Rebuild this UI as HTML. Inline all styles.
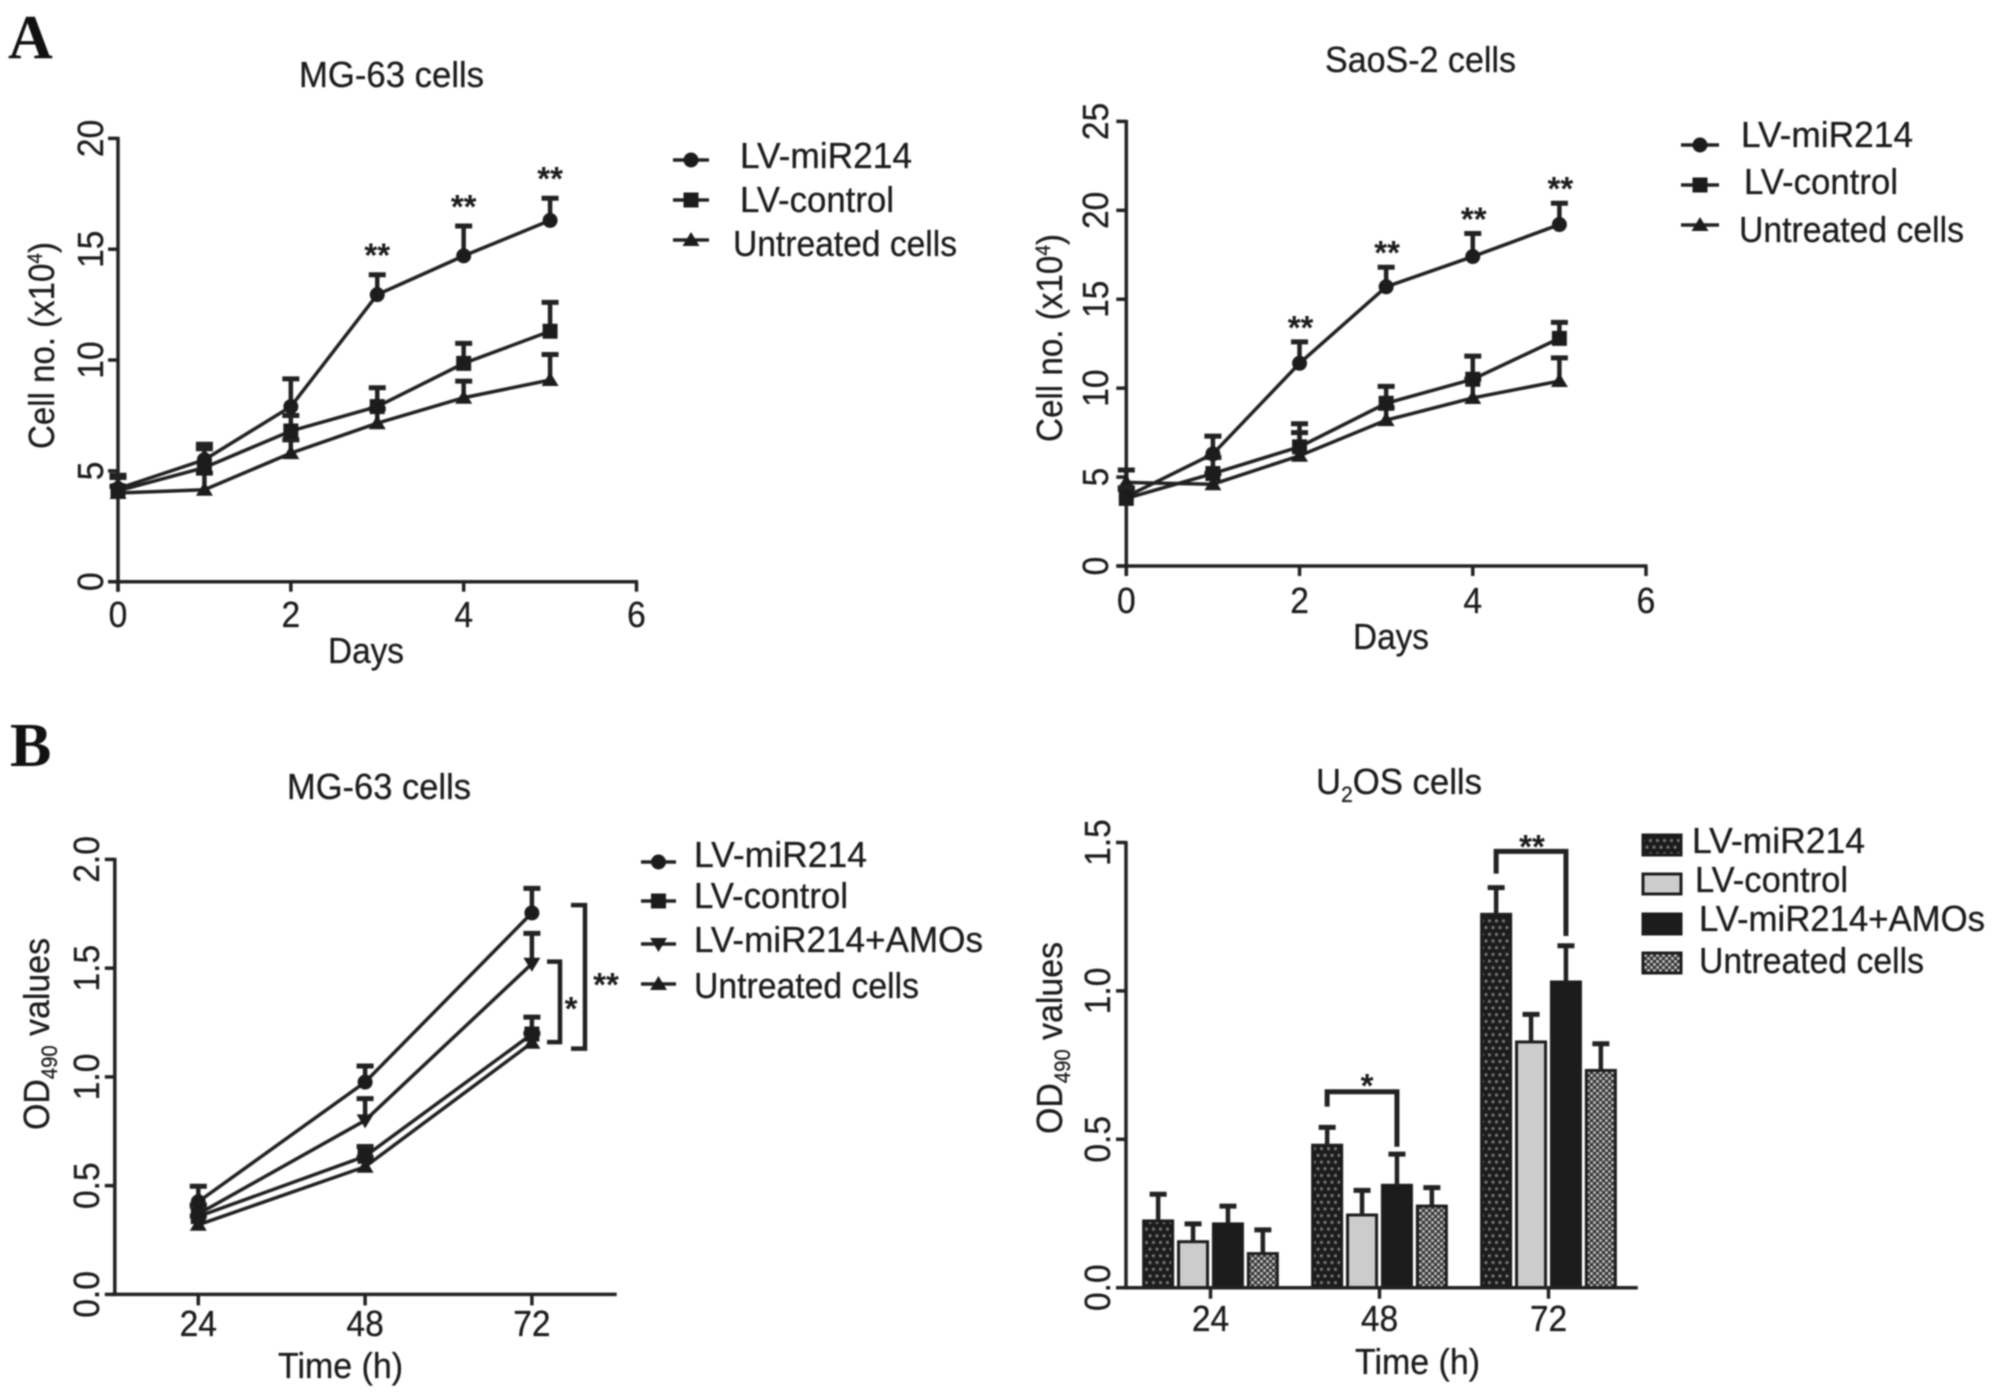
<!DOCTYPE html>
<html lang="en">
<head>
<meta charset="utf-8">
<title>Cell proliferation charts</title>
<style>
html,body{margin:0;padding:0;background:#fff;}
svg{display:block;filter:blur(0.75px);}
text{font-family:"Liberation Sans",sans-serif;fill:#1c1c1c;}
.panel{font-family:"Liberation Serif",serif;font-weight:bold;font-size:62px;fill:#111;}
.t{font-size:36.5px;stroke:#1c1c1c;stroke-width:0.3px;}
</style>
</head>
<body>
<svg id="fig" xmlns="http://www.w3.org/2000/svg" width="1998" height="1398" viewBox="0 0 1998 1398">
<defs>
<pattern id="dots" patternUnits="userSpaceOnUse" width="7" height="13.4"><rect width="7" height="13.4" fill="#1c1c1c"/><circle cx="2" cy="3" r="1.6" fill="#777"/><circle cx="5.5" cy="9.7" r="1.6" fill="#777"/></pattern>
<pattern id="check" patternUnits="userSpaceOnUse" width="6" height="6"><rect width="6" height="6" fill="#333"/><circle cx="1.5" cy="1.5" r="1.5" fill="#c4c4c4"/><circle cx="4.5" cy="4.5" r="1.5" fill="#c4c4c4"/></pattern>
</defs>
<rect x="0" y="0" width="1998" height="1398" fill="#fff"/>

<text class="panel" x="8" y="58">A</text>
<text class="panel" x="10" y="766">B</text>

<text class="t" x="299" y="87" textLength="185" lengthAdjust="spacingAndGlyphs">MG-63 cells</text>
<text class="t" x="328" y="663" textLength="76" lengthAdjust="spacingAndGlyphs">Days</text>
<text class="t" transform="translate(54,449) rotate(-90)" textLength="207" lengthAdjust="spacingAndGlyphs">Cell no.  (x10<tspan font-size="21" dy="-12">4</tspan><tspan dy="12">)</tspan></text>
<g>
<text class="t" x="740" y="168" textLength="172" lengthAdjust="spacingAndGlyphs">LV-miR214</text>
<text class="t" x="740" y="212" textLength="154" lengthAdjust="spacingAndGlyphs">LV-control</text>
<text class="t" x="733" y="256" textLength="224" lengthAdjust="spacingAndGlyphs">Untreated cells</text>
</g>

<text class="t" x="1325" y="72" textLength="191" lengthAdjust="spacingAndGlyphs">SaoS-2 cells</text>
<text class="t" x="1353" y="649" textLength="76" lengthAdjust="spacingAndGlyphs">Days</text>
<text class="t" transform="translate(1062,442) rotate(-90)" textLength="208" lengthAdjust="spacingAndGlyphs">Cell no.  (x10<tspan font-size="21" dy="-12">4</tspan><tspan dy="12">)</tspan></text>
<g>
<text class="t" x="1741" y="147" textLength="172" lengthAdjust="spacingAndGlyphs">LV-miR214</text>
<text class="t" x="1744" y="194" textLength="154" lengthAdjust="spacingAndGlyphs">LV-control</text>
<text class="t" x="1739" y="242" textLength="225" lengthAdjust="spacingAndGlyphs">Untreated cells</text>
</g>

<text class="t" x="287" y="799" textLength="184" lengthAdjust="spacingAndGlyphs">MG-63 cells</text>
<text class="t" x="278" y="1378" textLength="125" lengthAdjust="spacingAndGlyphs">Time (h)</text>
<text class="t" transform="translate(49,1130) rotate(-90)" textLength="192" lengthAdjust="spacingAndGlyphs">OD<tspan font-size="22" dy="8">490</tspan><tspan dy="-8"> values</tspan></text>
<g>
<text class="t" x="694" y="867" textLength="173" lengthAdjust="spacingAndGlyphs">LV-miR214</text>
<text class="t" x="694" y="908" textLength="154" lengthAdjust="spacingAndGlyphs">LV-control</text>
<text class="t" x="694" y="952" textLength="289" lengthAdjust="spacingAndGlyphs">LV-miR214+AMOs</text>
<text class="t" x="694" y="998" textLength="225" lengthAdjust="spacingAndGlyphs">Untreated cells</text>
</g>

<text class="t" x="1316" y="794" textLength="166" lengthAdjust="spacingAndGlyphs">U<tspan font-size="22" dy="8">2</tspan><tspan dy="-8">OS cells</tspan></text>
<text class="t" x="1355" y="1374" textLength="125" lengthAdjust="spacingAndGlyphs">Time (h)</text>
<text class="t" transform="translate(1062,1134) rotate(-90)" textLength="192" lengthAdjust="spacingAndGlyphs">OD<tspan font-size="22" dy="8">490</tspan><tspan dy="-8"> values</tspan></text>
<g>
<rect x="1643" y="835" width="38" height="20" fill="url(#dots)" stroke="#1c1c1c" stroke-width="3"/>
<rect x="1643" y="874" width="38" height="20" fill="#ccc" stroke="#1c1c1c" stroke-width="3"/>
<rect x="1643" y="914" width="38" height="20" fill="#1c1c1c" stroke="#1c1c1c" stroke-width="3"/>
<rect x="1643" y="953" width="38" height="20" fill="url(#check)" stroke="#1c1c1c" stroke-width="3"/>
<text class="t" x="1692" y="853" textLength="173" lengthAdjust="spacingAndGlyphs">LV-miR214</text>
<text class="t" x="1695" y="892" textLength="153" lengthAdjust="spacingAndGlyphs">LV-control</text>
<text class="t" x="1699" y="931" textLength="286" lengthAdjust="spacingAndGlyphs">LV-miR214+AMOs</text>
<text class="t" x="1699" y="973" textLength="225" lengthAdjust="spacingAndGlyphs">Untreated cells</text>
</g>
<g id="marks"></g>
</svg>
<script>
// Panel A, MG-63
var a1Days = [0, 1, 2, 3, 4, 5];
var a1Mir = [4.2, 5.5, 7.9, 12.95, 14.7, 16.3];
var a1MirTop = [4.8, 6.2, 9.15, 13.85, 16.05, 17.3];
var a1Control = [4.1, 5.15, 6.8, 7.9, 9.85, 11.3];
var a1ControlTop = [4.7, 6.0, 7.5, 8.75, 10.75, 12.6];
var a1Untreated = [4.0, 4.15, 5.8, 7.15, 8.3, 9.1];
var a1UntreatedTop = [4.3, 4.9, 6.4, 7.8, 9.05, 10.25];
var a1StarDays = [3, 4, 5];
var a1StarBase = [13.85, 16.05, 17.3];
var a1XTicks = [0, 2, 4, 6];
var a1YTicks = [0, 5, 10, 15, 20];

// Panel A, SaoS-2
var a2Days = [0, 1, 2, 3, 4, 5];
var a2Mir = [3.9, 6.3, 11.4, 15.7, 17.4, 19.2];
var a2MirTop = [4.4, 7.3, 12.6, 16.8, 18.7, 20.4];
var a2Control = [3.8, 5.2, 6.7, 9.15, 10.5, 12.8];
var a2ControlTop = [4.3, 6.1, 8.0, 10.1, 11.8, 13.7];
var a2Untreated = [4.7, 4.6, 6.2, 8.2, 9.45, 10.4];
var a2UntreatedTop = [5.4, 5.2, 7.5, 8.9, 10.5, 11.7];
var a2StarDays = [2, 3, 4, 5];
var a2StarBase = [12.6, 16.8, 18.7, 20.4];
var a2XTicks = [0, 2, 4, 6];
var a2YTicks = [0, 5, 10, 15, 20, 25];

// Panel B, MG-63
var b1Categories = ['24', '48', '72'];
var b1Mir = [0.426, 0.976, 1.754];
var b1MirTop = [0.497, 1.05, 1.867];
var b1Control = [0.358, 0.635, 1.197];
var b1ControlTop = [0.41, 0.68, 1.275];
var b1Amos = [0.37, 0.80, 1.52];
var b1AmosTop = [0.41, 0.90, 1.66];
var b1Untreated = [0.32, 0.587, 1.157];
var b1UntreatedTop = [0.36, 0.63, 1.2];
var b1YTicks = ['0.0', '0.5', '1.0', '1.5', '2.0'];

// Panel B, U2OS
var b2Categories = ['24', '48', '72'];
var b2Mir = [0.225, 0.48, 1.258];
var b2MirTop = [0.315, 0.54, 1.348];
var b2Control = [0.155, 0.245, 0.828];
var b2ControlTop = [0.215, 0.328, 0.921];
var b2Amos = [0.215, 0.345, 1.03];
var b2AmosTop = [0.275, 0.45, 1.152];
var b2Untreated = [0.115, 0.275, 0.732];
var b2UntreatedTop = [0.195, 0.337, 0.822];
var b2YTicks = ['0.0', '0.5', '1.0', '1.5'];

var NS = 'http://www.w3.org/2000/svg';
var INK = '#222';
var root = document.getElementById('marks');

function linear(d0, d1, r0, r1) {
  return function (v) { return r0 + (v - d0) * (r1 - r0) / (d1 - d0); };
}
function make(tag, parent, name) {
  var el = document.createElementNS(NS, tag);
  
  
  parent.appendChild(el);
  return el;
}
function seg(parent, name, x1, y1, x2, y2, w) {
  var l = make('line', parent, name);
  l.setAttribute('x1', x1); l.setAttribute('y1', y1);
  l.setAttribute('x2', x2); l.setAttribute('y2', y2);
  l.setAttribute('stroke', INK);
  l.setAttribute('stroke-width', w);
  return l;
}
function tickLabel(parent, name, str, x, y, rot) {
  var t = make('text', parent, name);
  t.textContent = str;
  t.setAttribute('class', 't');
  t.setAttribute('text-anchor', 'middle');
  t.setAttribute('transform', 'translate(' + x + ',' + y + ')' + (rot ? ' rotate(-90)' : '') + ' scale(0.92,1)');
  return t;
}
function stars(parent, name, str, x, y) {
  var t = make('text', parent, name);
  t.textContent = str;
  t.setAttribute('text-anchor', 'middle');
  t.setAttribute('font-size', 33);
  t.setAttribute('font-weight', 'bold');
  t.setAttribute('x', x);
  t.setAttribute('y', y);
  return t;
}
function marker(parent, name, shape, x, y) {
  var m;
  if (shape === 'circle') {
    m = make('circle', parent, name);
    m.setAttribute('cx', x); m.setAttribute('cy', y); m.setAttribute('r', 7.5);
  } else if (shape === 'square') {
    m = make('rect', parent, name);
    m.setAttribute('x', x - 7.5); m.setAttribute('y', y - 7.5);
    m.setAttribute('width', 15); m.setAttribute('height', 15);
  } else if (shape === 'up') {
    m = make('path', parent, name);
    m.setAttribute('d', 'M' + (x - 8.5) + ' ' + (y + 6) + 'L' + (x + 8.5) + ' ' + (y + 6) + 'L' + x + ' ' + (y - 8) + 'Z');
  } else {
    m = make('path', parent, name);
    m.setAttribute('d', 'M' + (x - 8.5) + ' ' + (y - 6) + 'L' + (x + 8.5) + ' ' + (y - 6) + 'L' + x + ' ' + (y + 8) + 'Z');
  }
  m.setAttribute('fill', '#1c1c1c');
}
function errorBar(parent, name, x, yVal, yTop) {
  seg(parent, name + '-stem', x, yVal, x, yTop, 4.5);
  seg(parent, name + '-cap', x - 8.5, yTop, x + 8.5, yTop, 5);
}
function series(parent, name, shape, xs, vals, tops, sx, sy) {
  var g = make('g', parent, name);
  var i, pts = [];
  for (i = 0; i < xs.length; i++) { pts.push(sx(xs[i]) + ',' + sy(vals[i])); }
  var pl = make('polyline', g, name + '-line');
  pl.setAttribute('points', pts.join(' '));
  pl.setAttribute('fill', 'none');
  pl.setAttribute('stroke', INK);
  pl.setAttribute('stroke-width', 3.5);
  for (i = 0; i < xs.length; i++) {
    errorBar(g, name + '-error-bar', sx(xs[i]), sy(vals[i]), sy(tops[i]));
    marker(g, name + '-point', shape, sx(xs[i]), sy(vals[i]));
  }
}
function legendKey(parent, name, shape, x1, x2, y) {
  seg(parent, name + '-line', x1, y, x2, y, 3.5);
  marker(parent, name + '-marker', shape, (x1 + x2) / 2, y);
}
function numericAxes(parent, prefix, sx, sy, xTicks, yTicks, x0, x1, y0, y1, tickY, labelX) {
  var g = make('g', parent, prefix + '-axes');
  seg(g, prefix + '-x-axis', x0 - 10, y0, x1 + 1.5, y0, 3.5);
  seg(g, prefix + '-y-axis', x0, y1 - 1.5, x0, y0 + 10, 3.5);
  xTicks.forEach(function (t) {
    seg(g, prefix + '-x-tick', sx(t), y0, sx(t), y0 + 10, 3.5);
    tickLabel(g, prefix + '-x-tick-label', String(t), sx(t), tickY);
  });
  yTicks.forEach(function (t) {
    seg(g, prefix + '-y-tick', x0 - 10, sy(t), x0, sy(t), 3.5);
    tickLabel(g, prefix + '-y-tick-label', String(t), labelX, sy(t), true);
  });
}
function categoryAxes(parent, prefix, sx, sy, cats, yTicks, x0, x1, y0, tickY, labelX) {
  var g = make('g', parent, prefix + '-axes');
  seg(g, prefix + '-x-axis', x0 - 3, y0, x1, y0, 3.5);
  seg(g, prefix + '-y-axis', x0, sy(Number(yTicks[yTicks.length - 1])) - 1.5, x0, y0, 3.5);
  cats.forEach(function (c, i) {
    seg(g, prefix + '-x-tick', sx(i), y0, sx(i), y0 + 11, 3.5);
    tickLabel(g, prefix + '-x-tick-label', c, sx(i), tickY);
  });
  yTicks.forEach(function (t) {
    seg(g, prefix + '-y-tick', x0 - 10, sy(Number(t)), x0, sy(Number(t)), 3.5);
    tickLabel(g, prefix + '-y-tick-label', t, labelX, sy(Number(t)), true);
  });
}

/* ---- A1 ---- */
var a1X = linear(0, 6, 118, 636.5);
var a1Y = linear(0, 20, 581.7, 138.4);
var a1G = make('g', root, 'chart-a1');
numericAxes(a1G, 'chart-a1', a1X, a1Y, a1XTicks, a1YTicks, 118, 636.5, 581.7, 138.4, 627, 103);
series(a1G, 'series-untreated', 'up', a1Days, a1Untreated, a1UntreatedTop, a1X, a1Y);
series(a1G, 'series-lv-control', 'square', a1Days, a1Control, a1ControlTop, a1X, a1Y);
series(a1G, 'series-lv-mir214', 'circle', a1Days, a1Mir, a1MirTop, a1X, a1Y);
a1StarDays.forEach(function (d, i) {
  stars(a1G, 'significance-stars', '**', a1X(d), a1Y(a1StarBase[i]) - 8);
});
legendKey(a1G, 'legend-key-lv-mir214', 'circle', 673, 709, 160);
legendKey(a1G, 'legend-key-lv-control', 'square', 673, 709, 200);
legendKey(a1G, 'legend-key-untreated', 'up', 673, 709, 240);

/* ---- A2 ---- */
var a2X = linear(0, 6, 1126.3, 1646);
var a2Y = linear(0, 25, 566, 121.4);
var a2G = make('g', root, 'chart-a2');
numericAxes(a2G, 'chart-a2', a2X, a2Y, a2XTicks, a2YTicks, 1126.3, 1646, 566, 121.4, 613, 1108);
series(a2G, 'series-untreated', 'up', a2Days, a2Untreated, a2UntreatedTop, a2X, a2Y);
series(a2G, 'series-lv-control', 'square', a2Days, a2Control, a2ControlTop, a2X, a2Y);
series(a2G, 'series-lv-mir214', 'circle', a2Days, a2Mir, a2MirTop, a2X, a2Y);
a2StarDays.forEach(function (d, i) {
  stars(a2G, 'significance-stars', '**', a2X(d) + 1, a2Y(a2StarBase[i]) - 3);
});
legendKey(a2G, 'legend-key-lv-mir214', 'circle', 1681, 1719, 145);
legendKey(a2G, 'legend-key-lv-control', 'square', 1681, 1719, 185);
legendKey(a2G, 'legend-key-untreated', 'up', 1681, 1719, 225);

/* ---- B1 ---- */
var b1X = linear(0, 2, 198.3, 531.9);
var b1Y = linear(0, 2, 1294.4, 859.4);
var b1Idx = [0, 1, 2];
var b1G = make('g', root, 'chart-b1');
categoryAxes(b1G, 'chart-b1', b1X, b1Y, b1Categories, b1YTicks, 114.8, 616.7, 1294.4, 1336, 99);
series(b1G, 'series-untreated', 'up', b1Idx, b1Untreated, b1UntreatedTop, b1X, b1Y);
series(b1G, 'series-lv-control', 'square', b1Idx, b1Control, b1ControlTop, b1X, b1Y);
series(b1G, 'series-lv-mir214-amos', 'down', b1Idx, b1Amos, b1AmosTop, b1X, b1Y);
series(b1G, 'series-lv-mir214', 'circle', b1Idx, b1Mir, b1MirTop, b1X, b1Y);
function sideBracket(parent, name, x1, x2, yA, yB) {
  var p = make('path', parent, name);
  p.setAttribute('d', 'M' + x1 + ' ' + yA + 'H' + x2 + 'V' + yB + 'H' + x1);
  p.setAttribute('fill', 'none');
  p.setAttribute('stroke', INK);
  p.setAttribute('stroke-width', 4.5);
}
sideBracket(b1G, 'significance-bracket-amos', 547, 560, b1Y(1.53), b1Y(1.16));
sideBracket(b1G, 'significance-bracket-mir214', 571, 585, b1Y(1.79), b1Y(1.13));
stars(b1G, 'significance-star', '*', 571, 1020);
stars(b1G, 'significance-stars', '**', 606, 996);
legendKey(b1G, 'legend-key-lv-mir214', 'circle', 641, 676, 862);
legendKey(b1G, 'legend-key-lv-control', 'square', 641, 676, 901);
legendKey(b1G, 'legend-key-lv-mir214-amos', 'down', 641, 676, 944);
legendKey(b1G, 'legend-key-untreated', 'up', 641, 676, 984);

/* ---- B2 ---- */
var b2X = linear(0, 2, 1210.5, 1548.5);
var b2Y = linear(0, 1.5, 1287.7, 842.5);
var b2G = make('g', root, 'chart-b2');
var b2Step = 34.9;
function barSeries(name, fill, vals, tops, slot) {
  var g = make('g', b2G, name);
  vals.forEach(function (v, i) {
    var cx = b2X(i) + (slot - 1.5) * b2Step;
    var r = make('rect', g, name + '-bar');
    r.setAttribute('x', cx - 14.5);
    r.setAttribute('y', b2Y(v));
    r.setAttribute('width', 29);
    r.setAttribute('height', b2Y(0) - b2Y(v));
    r.setAttribute('fill', fill);
    r.setAttribute('stroke', '#1c1c1c');
    r.setAttribute('stroke-width', 3);
    errorBar(g, name + '-error-bar', cx, b2Y(v), b2Y(tops[i]));
  });
}
barSeries('series-lv-mir214', 'url(#dots)', b2Mir, b2MirTop, 0);
barSeries('series-lv-control', '#ccc', b2Control, b2ControlTop, 1);
barSeries('series-lv-mir214-amos', '#1c1c1c', b2Amos, b2AmosTop, 2);
barSeries('series-untreated', 'url(#check)', b2Untreated, b2UntreatedTop, 3);
categoryAxes(b2G, 'chart-b2', b2X, b2Y, b2Categories, b2YTicks, 1126, 1637.8, 1287.7, 1331, 1110);
function topBracket(name, catIndex, level, leftEnd, rightEnd) {
  var a = b2X(catIndex) - 1.5 * b2Step;
  var b = b2X(catIndex) + 0.5 * b2Step;
  var p = make('path', b2G, name);
  p.setAttribute('d', 'M' + a + ' ' + b2Y(leftEnd) + 'V' + b2Y(level) + 'H' + b + 'V' + b2Y(rightEnd));
  p.setAttribute('fill', 'none');
  p.setAttribute('stroke', INK);
  p.setAttribute('stroke-width', 5);
}
topBracket('significance-bracket-48h', 1, 0.66, 0.61, 0.475);
topBracket('significance-bracket-72h', 2, 1.47, 1.395, 1.185);
stars(b2G, 'significance-star', '*', 1367, 1097);
stars(b2G, 'significance-stars', '**', 1532, 858);
</script>
</body>
</html>
